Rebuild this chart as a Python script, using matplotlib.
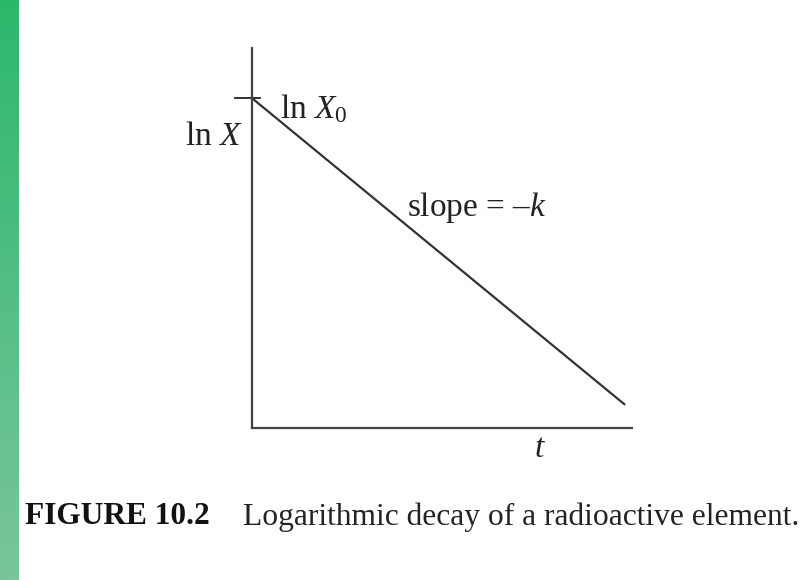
import numpy as np
import matplotlib
matplotlib.use("Agg")
import matplotlib.pyplot as plt
from matplotlib.colors import LinearSegmentedColormap

plt.rcParams["mathtext.fontset"] = "custom"
plt.rcParams["mathtext.rm"] = "Liberation Serif"
plt.rcParams["mathtext.it"] = "Liberation Serif:italic"
plt.rcParams["font.family"] = "Liberation Serif"

# Model: ln X = ln X0 - k t
t_values = [0.0, 9.82]
ln_x0 = 8.68
k = 0.822
ln_x_values = [ln_x0 - k * t for t in t_values]

axis_label_y = "ln $X$"
axis_label_x = "$t$"
intercept_label = "ln $X_0$"
slope_label = "slope = \u2013$k$"
caption_bold = "FIGURE 10.2"
caption_text = "Logarithmic decay of a radioactive element."

W, H = 807, 580
fig = plt.figure(figsize=(W / 100, H / 100), dpi=100)
fig.patch.set_facecolor("white")

# green side strip
strip = fig.add_axes([0, 0, 19 / W, 1])
cmap = LinearSegmentedColormap.from_list("strip", ["#2cb86b", "#7ac59c"])
strip.imshow(np.linspace(0, 1, 256).reshape(-1, 1), aspect="auto", cmap=cmap,
             extent=[0, 1, 0, 1])
strip.axis("off")

x0, y0, x1, y1 = 252, 428, 632, 48
ax = fig.add_axes([x0 / W, 1 - y0 / H, (x1 - x0) / W, (y0 - y1) / H])
ax.set_xlim(0, 10)
ax.set_ylim(0, 10)
for s in ["top", "right"]:
    ax.spines[s].set_visible(False)
for s in ["left", "bottom"]:
    ax.spines[s].set_color("#444444")
    ax.spines[s].set_linewidth(1.6)
ax.set_xticks([])
ax.set_yticks([])

ax.plot(t_values, ln_x_values, color="#333333", lw=1.6, solid_capstyle="butt")
# intercept tick
ax.plot([-0.45, 0.2], [ln_x0, ln_x0], color="#333333", lw=1.4, clip_on=False)

txt = dict(color="#222222", fontsize=24, ha="center", va="center")
ax.text(-1.0, 7.66, axis_label_y, **txt)
ax.text(1.63, 8.40, intercept_label, **txt)
ax.text(5.92, 5.79, slope_label, **txt)
ax.text(7.58, -0.55, axis_label_x, **txt)

fig.text(25 / W, 1 - 517 / H, caption_bold, fontsize=22.6, fontweight="bold",
         ha="left", va="center", color="#111111")
fig.text(243 / W, 1 - 517 / H, caption_text, fontsize=22.7,
         ha="left", va="center", color="#222222")

fig.savefig("out.png", dpi=100)
